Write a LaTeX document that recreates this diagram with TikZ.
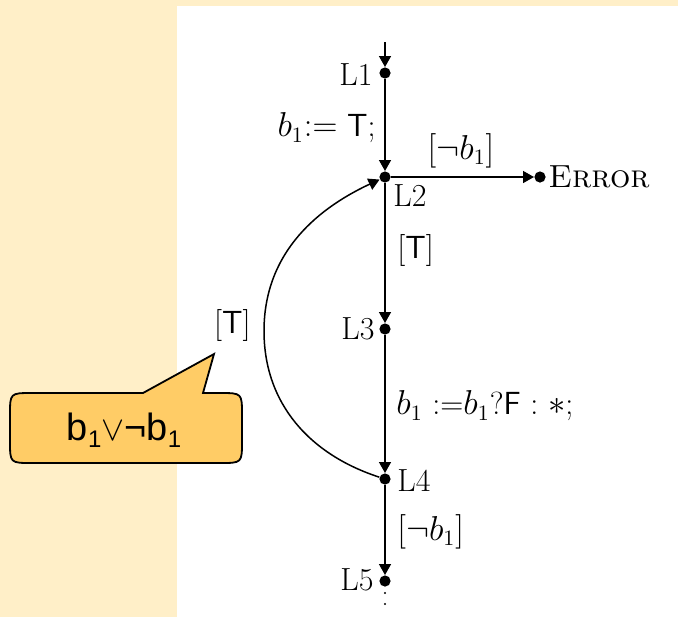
\documentclass[tikz,border=0pt]{standalone}
\usepackage{fontspec}
\newfontfamily\calloutfont{Liberation Sans}
\usetikzlibrary{arrows.meta}
\definecolor{bgyellow}{HTML}{FFEFC8}
\definecolor{calloutfill}{HTML}{FFCC66}
\begin{document}
\begin{tikzpicture}[x=0.5pt,y=-0.5pt,
  font=\fontsize{16}{19}\selectfont,
  loc/.style={circle,fill=black,inner sep=0pt,minimum size=5.6pt},
  lbl/.style={inner sep=0pt},
  edge/.style={line width=0.75pt,-{Triangle[length=5.5pt,width=6pt]}},
  callout/.style={draw=black,line width=0.9pt,fill=calloutfill}]
\useasboundingbox (0,0) rectangle (678,617);
\fill[bgyellow] (0,0) rectangle (678,617);
\fill[white] (177,6) rectangle (678,617);

\coordinate (start) at (385,42);
\node[loc] (L1) at (385,73) {};
\node[loc] (L2) at (385,177) {};
\node[loc] (L3) at (385,329) {};
\node[loc] (L4) at (385,479) {};
\node[loc] (L5) at (385,581) {};
\node[loc] (err) at (540,177) {};
\coordinate (arcl) at (264,331);

\node[lbl,anchor=east] (tL1) at (373,75) {L1};
\node[lbl,anchor=west] (tL2) at (393,196) {L2};
\node[lbl,anchor=east] (tL3) at (375,329) {L3};
\node[lbl,anchor=west] (tL4) at (397,481) {L4};
\node[lbl,anchor=east] (tL5) at (374,580) {L5};
\node[lbl,anchor=west] (tErr) at (548,177) {\textsc{Error}};

\node[lbl,anchor=east] (a1) at (376,128) {$b_1{:=}$ \textsf{T};};
\node[lbl] (g1) at (461,151) {$[\neg b_1]$};
\node[lbl,anchor=west] (g2) at (397,250) {[\textsf{T}]};
\node[lbl,anchor=west] (a2) at (396,406) {$b_1$ :=$b_1$?\textsf{F} : $*$;};
\node[lbl,anchor=west] (g3) at (397,532) {$[\neg b_1]$};
\node[lbl,anchor=east] (g4) at (251,325) {[\textsf{T}]};

\fill (385,593) circle[radius=1.2];
\fill (385,604) circle[radius=1.2];

\draw[edge] (start) -- (L1);
\draw[edge] (L1) -- (L2);
\draw[edge] (L2) -- (err);
\draw[edge] (L2) -- (L3);
\draw[edge] (L3) -- (L4);
\draw[edge] (L4) -- (L5);
\draw[edge] (L4) to[out=162,in=-90] (arcl) to[out=90,in=205] (L2);

\draw[callout] (10,415) .. controls (10,393) .. (32,393) -- (143,393) -- (214,354)
  -- (203,393) -- (220,393) .. controls (242,393) .. (242,415) -- (242,441)
  .. controls (242,463) .. (220,463) -- (32,463) .. controls (10,463) .. (10,441) -- cycle;
\node[lbl,font=\calloutfont\fontsize{19}{22}\selectfont] (ct) at (124,430)
  {b\raisebox{-0.35ex}{\fontsize{12}{12}\selectfont 1}$\vee$¬b\raisebox{-0.35ex}{\fontsize{12}{12}\selectfont 1}};
\end{tikzpicture}
\end{document}
